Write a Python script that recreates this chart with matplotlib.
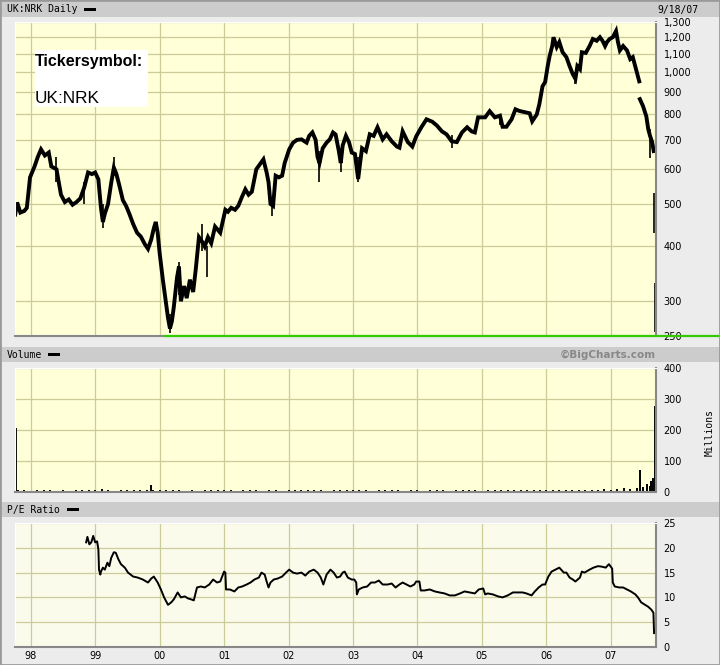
import numpy as np
import matplotlib
matplotlib.use('Agg')
import matplotlib.pyplot as plt
from matplotlib.patches import Rectangle

# ---- data (x = decimal year) ----
price_dates = [1997.76, 1997.79, 1997.84, 1997.90, 1997.94, 1997.99,
               1998.06, 1998.11, 1998.16, 1998.22, 1998.28, 1998.32, 1998.40, 1998.47,
               1998.53, 1998.59, 1998.65, 1998.71, 1998.77, 1998.83, 1998.89, 1998.95,
               1999.00, 1999.05, 1999.09, 1999.12, 1999.15, 1999.20, 1999.25, 1999.29,
               1999.33, 1999.37, 1999.43, 1999.48, 1999.53, 1999.59, 1999.65, 1999.71,
               1999.77, 1999.82, 1999.87, 1999.91, 1999.94, 1999.97,
               2000.00, 2000.05, 2000.10, 2000.13, 2000.16, 2000.19, 2000.22, 2000.27,
               2000.30, 2000.33, 2000.38, 2000.42, 2000.47, 2000.52, 2000.56, 2000.61,
               2000.66, 2000.70, 2000.75, 2000.80, 2000.86, 2000.94,
               2001.02, 2001.06, 2001.11, 2001.17, 2001.22, 2001.28, 2001.33, 2001.38,
               2001.43, 2001.47, 2001.50, 2001.57, 2001.61, 2001.66, 2001.69, 2001.72,
               2001.76, 2001.80, 2001.85, 2001.90, 2001.94,
               2002.01, 2002.07, 2002.13, 2002.20, 2002.28, 2002.32, 2002.37, 2002.42,
               2002.45, 2002.48, 2002.53, 2002.59, 2002.64, 2002.69, 2002.73, 2002.78,
               2002.81, 2002.84, 2002.89, 2002.94, 2002.98,
               2003.03, 2003.06, 2003.08, 2003.11, 2003.14, 2003.20, 2003.26, 2003.32,
               2003.38, 2003.46, 2003.52, 2003.60, 2003.68, 2003.72, 2003.77, 2003.85,
               2003.92, 2003.98,
               2004.06, 2004.14, 2004.23, 2004.30, 2004.38, 2004.45, 2004.53, 2004.61,
               2004.69, 2004.77, 2004.84, 2004.89, 2004.94,
               2005.05, 2005.12, 2005.20, 2005.28, 2005.32, 2005.38, 2005.46, 2005.52,
               2005.58, 2005.66, 2005.74, 2005.78, 2005.85, 2005.89, 2005.94, 2005.98,
               2006.02, 2006.05, 2006.09, 2006.11, 2006.16, 2006.20, 2006.25, 2006.31,
               2006.36, 2006.41, 2006.45, 2006.48, 2006.52, 2006.55, 2006.61, 2006.67,
               2006.72, 2006.78, 2006.83, 2006.87, 2006.91, 2006.94, 2006.98,
               2007.03, 2007.08, 2007.11, 2007.14, 2007.19, 2007.25, 2007.30, 2007.34,
               2007.39, 2007.44, 2007.445, 2007.45, 2007.50, 2007.55, 2007.58, 2007.61,
               2007.64, 2007.665]
price_close = [473, 504, 478, 482, 490, 575,
               609, 640, 666, 645, 655, 609, 600, 525,
               505, 512, 498, 505, 515, 545, 590, 585,
               590, 569, 490, 455, 475, 500, 560, 605,
               585, 555, 510, 495, 475, 450, 430, 421,
               405, 395, 415, 440, 455, 430,
               387, 336, 297, 275, 260, 270, 291, 340,
               360, 300, 325, 305, 336, 315, 354, 420,
               410, 400, 420, 407, 444, 430,
               485, 480, 490, 485, 495, 520, 540, 525,
               533, 570, 600, 620, 632, 590, 560, 500,
               495, 580, 575, 580, 620,
               666, 690, 700, 702, 690, 715, 728, 700,
               640, 620, 670, 690, 702, 728, 720, 660,
               620, 680, 715, 690, 655,
               650, 600, 570, 620, 670, 660, 721, 715,
               748, 702, 721, 695, 676, 672, 732, 692,
               676, 713,
               748, 780, 770, 755, 732, 721, 695, 692,
               728, 748, 732, 728, 788,
               788, 814, 788, 795, 750, 750, 780, 822,
               815, 810, 805, 772, 800, 844, 928, 948,
               1031, 1087, 1146, 1200, 1140, 1170, 1110, 1081,
               1031, 988, 965, 1031, 1015, 1109, 1105, 1146,
               1189, 1178, 1200, 1178, 1146, 1170, 1189,
               1200, 1240, 1170, 1120, 1146, 1120, 1070, 1081,
               1015, 952, np.nan, 867, 835, 792, 740, 713,
               692, 660]

# single-day high/low bars that stick out (incl. the September 2007 run)
bar_dates = [1998.40, 1998.83, 1999.12, 1999.29, 2000.16, 2000.30, 2000.65, 2000.74,
             2001.75, 2002.47, 2002.81, 2003.08, 2004.53, 2005.28, 2006.45, 2007.61,
             2007.674, 2007.679]
bar_high = [640, 560, 500, 640, 280, 369, 449, 400,
            520, 660, 650, 640, 720, 800, 1000, 740,
            530, 330]
bar_low = [560, 500, 440, 580, 254, 310, 390, 340,
           470, 560, 590, 560, 670, 755, 940, 637,
           430, 255]

low_line_start = 2000.08   # green low marker
low_line_end = 2008.70
low_line_level = 250

vol_dates = np.linspace(1997.8, 2007.6, 99)
vol_millions = [6, 5, 4, 5, 6, 5, 4, 5, 4, 5,
                5, 6, 5, 10, 5, 4, 5, 6, 5, 7,
                6, 7, 5, 6, 7, 5, 4, 5, 4, 5,
                6, 5, 7, 5, 4, 5, 6, 5, 4, 7,
                5, 4, 5, 6, 5, 5, 8, 5, 4, 5,
                5, 6, 8, 7, 5, 4, 5, 5, 6, 5,
                4, 5, 5, 4, 5, 6, 5, 4, 5, 5,
                6, 5, 4, 5, 5, 6, 5, 6, 5, 7,
                6, 8, 7, 5, 6, 5, 6, 7, 6, 8,
                7, 9, 8, 10, 12, 11, 14, 17, 20]
vol_spike_dates = [1997.775, 1999.87, 2007.45, 2007.56, 2007.62, 2007.66, 2007.678]
vol_spike_millions = [205, 23, 72, 25, 35, 45, 276]

pe_dates = [1998.86, 1998.88, 1998.91, 1998.94, 1998.97,
            1999.00, 1999.03, 1999.05, 1999.06, 1999.08, 1999.09, 1999.12, 1999.15,
            1999.19, 1999.22, 1999.25, 1999.29, 1999.32, 1999.36, 1999.40, 1999.46,
            1999.51, 1999.59, 1999.66, 1999.74, 1999.82, 1999.87, 1999.91, 1999.97,
            2000.02, 2000.07, 2000.13, 2000.18, 2000.22, 2000.28, 2000.33, 2000.39,
            2000.44, 2000.49, 2000.53, 2000.58, 2000.64, 2000.70, 2000.77, 2000.83,
            2000.89, 2000.94, 2000.97,
            2001.00, 2001.02, 2001.03, 2001.09, 2001.16, 2001.22, 2001.28, 2001.35,
            2001.41, 2001.47, 2001.54, 2001.58, 2001.63, 2001.66, 2001.69, 2001.72,
            2001.77, 2001.83, 2001.90, 2001.96,
            2002.01, 2002.07, 2002.13, 2002.20, 2002.26, 2002.32, 2002.39, 2002.45,
            2002.50, 2002.54, 2002.59, 2002.65, 2002.70, 2002.75, 2002.80, 2002.84,
            2002.87, 2002.92, 2002.98,
            2003.02, 2003.05, 2003.06, 2003.09, 2003.15, 2003.22, 2003.28, 2003.34,
            2003.40, 2003.46, 2003.54, 2003.60, 2003.66, 2003.72, 2003.77, 2003.83,
            2003.89, 2003.95, 2003.98,
            2004.03, 2004.05, 2004.11, 2004.19, 2004.27, 2004.34, 2004.42, 2004.50,
            2004.58, 2004.66, 2004.73, 2004.81, 2004.89, 2004.95,
            2005.02, 2005.05, 2005.09, 2005.17, 2005.25, 2005.32, 2005.40, 2005.48,
            2005.55, 2005.63, 2005.69, 2005.77, 2005.82, 2005.88, 2005.94, 2005.98,
            2006.03, 2006.08, 2006.14, 2006.20, 2006.27, 2006.31, 2006.36, 2006.41,
            2006.45, 2006.52, 2006.55, 2006.59, 2006.67, 2006.73, 2006.80, 2006.86,
            2006.92, 2006.97,
            2007.02, 2007.03, 2007.06, 2007.13, 2007.19, 2007.25, 2007.31, 2007.38,
            2007.42, 2007.47, 2007.53, 2007.58, 2007.63, 2007.66, 2007.67]
pe_ratio = [21.1, 22.2, 20.7, 21.1, 22.4,
            21.1, 21.3, 19.7, 15.6, 14.6, 15.2, 16.0, 15.6,
            17.0, 16.3, 18.0, 19.1, 19.0, 17.7, 16.7, 16.0,
            15.0, 14.2, 14.0, 13.6, 13.0, 13.8, 14.2, 13.0,
            11.6, 10.0, 8.5, 9.0, 9.6, 11.0, 10.0, 10.2,
            9.8, 9.6, 9.4, 12.0, 12.2, 12.0, 12.6, 13.6,
            13.0, 13.2, 14.2,
            15.2, 15.0, 11.6, 11.6, 11.2, 12.0, 12.2, 12.6,
            13.0, 13.6, 14.0, 15.0, 14.6, 13.2, 12.0, 13.0,
            13.6, 13.8, 14.2, 15.0,
            15.6, 15.0, 14.8, 15.0, 14.4, 15.2, 15.6, 15.0,
            14.0, 12.6, 14.6, 15.6, 15.0, 14.0, 14.2, 15.0,
            15.2, 14.0, 13.6,
            13.6, 13.0, 10.6, 11.6, 12.0, 12.2, 13.0, 13.0,
            13.4, 12.6, 12.6, 12.8, 12.0, 12.6, 13.0, 12.6,
            12.2, 12.6, 13.2,
            13.2, 11.4, 11.4, 11.6, 11.2, 11.0, 10.8, 10.4,
            10.4, 10.8, 11.2, 11.0, 10.8, 11.6,
            11.8, 10.6, 10.8, 10.6, 10.2, 10.0, 10.4, 11.0,
            11.0, 11.0, 10.8, 10.4, 11.2, 12.0, 12.6, 12.6,
            14.2, 15.2, 15.6, 16.0, 15.0, 15.0, 14.0, 13.6,
            13.2, 14.0, 15.2, 15.0, 15.6, 16.0, 16.3, 16.2,
            16.0, 16.7,
            15.8, 13.0, 12.2, 12.0, 12.0, 11.6, 11.2, 10.6,
            10.0, 9.0, 8.5, 8.1, 7.5, 6.9, 2.8]

years = list(range(1998, 2008))
year_labels = ['98', '99', '00', '01', '02', '03', '04', '05', '06', '07']
price_ticks = [250, 300, 400, 500, 600, 700, 800, 900, 1000, 1100, 1200, 1300]
price_tick_labels = ['250', '300', '400', '500', '600', '700', '800', '900',
                     '1,000', '1,100', '1,200', '1,300']

# ---- layout (pixel helpers) ----
W, H = 720, 665
X0, X1 = 1997.752, 2007.70


def fx(x):
    return x / W


def fy(y):
    return 1 - y / H


fig = plt.figure(figsize=(W / 100, H / 100), dpi=100, facecolor='#ececec')


def panel(top, bottom, bg):
    ax = fig.add_axes([fx(14.7), fy(bottom), fx(656) - fx(14.7), (bottom - top) / H])
    ax.set_facecolor(bg)
    ax.set_axisbelow(True)
    ax.grid(True, color='#cccc99', lw=0.9)
    ax.yaxis.tick_right()
    ax.tick_params(length=0, labelsize=7, pad=5.5)
    ax.tick_params(axis='x', pad=3)
    for s in ['top', 'left']:
        ax.spines[s].set_color('white')
    for s in ['right', 'bottom']:
        ax.spines[s].set_color('#888888')
        ax.spines[s].set_linewidth(1.5)
    ax.set_xlim(X0, X1)
    ax.set_xticks(years)
    return ax


def header(top, bottom, label, dash_x):
    fig.patches.append(Rectangle((fx(2), fy(bottom)), 1 - fx(2), (bottom - top) / H,
                                 transform=fig.transFigure, facecolor='#cccccc',
                                 edgecolor='none'))
    mid = (top + bottom) / 2
    fig.text(fx(7), fy(mid), label, family='DejaVu Sans Mono', fontsize=7,
             va='center', ha='left')
    fig.patches.append(Rectangle((fx(dash_x), fy(mid + 1.7)), 12 / W, 3.4 / H,
                                 transform=fig.transFigure, facecolor='black',
                                 edgecolor='none'))


# price panel
ax1 = panel(22, 336, '#ffffd8')
ax1.set_yscale('log')
ax1.plot(price_dates, price_close, color='black', lw=2.8, solid_joinstyle='miter')
ax1.vlines(bar_dates, bar_low, bar_high, color='black', lw=1.2)
ax1.plot([low_line_start, low_line_end], [low_line_level, low_line_level],
         color='#33cc00', lw=1.6, clip_on=False, zorder=5)
ax1.set_ylim(250, 1300)
ax1.set_yticks(price_ticks)
ax1.set_yticklabels(price_tick_labels)
ax1.minorticks_off()
ax1.set_xticklabels([])

# volume panel
ax2 = panel(368, 492, '#ffffd8')
ax2.vlines(vol_dates, 0, vol_millions, color='black', lw=1.4)
ax2.vlines(vol_spike_dates, 0, vol_spike_millions, color='black', lw=1.4)
ax2.set_ylim(0, 400)
ax2.set_yticks([0, 100, 200, 300, 400])
ax2.set_xticklabels([])

# P/E panel
ax3 = panel(523, 647, '#fbfbec')
ax3.plot(pe_dates, pe_ratio, color='black', lw=1.4)
ax3.set_ylim(0, 25)
ax3.set_yticks([0, 5, 10, 15, 20, 25])
ax3.set_xticklabels(year_labels)

# headers and labels
header(2, 17, 'UK:NRK Daily', 84)
header(347, 362, 'Volume', 48)
header(502, 517, 'P/E Ratio', 67)
fig.text(fx(698), fy(9.5), '9/18/07', family='DejaVu Sans Mono', fontsize=7,
         ha='right', va='center')
fig.text(fx(656), fy(354.5), '\u00a9BigCharts.com', fontsize=7.5, weight='bold',
         color='#888888', ha='right', va='center')
fig.text(fx(710), fy(432), 'Millions', family='DejaVu Sans Mono', fontsize=7,
         rotation=90, ha='center', va='center')

# ticker box
fig.patches.append(Rectangle((fx(35), fy(107)), 113 / W, 57 / H,
                             transform=fig.transFigure, facecolor='white',
                             edgecolor='none'))
fig.text(fx(35), fy(66), 'Tickersymbol:', family='Liberation Sans', weight='bold',
         fontsize=11.5, va='baseline', ha='left')
fig.text(fx(35), fy(103), 'UK:NRK', family='Liberation Sans', fontsize=12.4,
         va='baseline', ha='left')

# outer border
fig.patches.append(Rectangle((0, 0), 1, 1, transform=fig.transFigure,
                             facecolor='none', edgecolor='#999999', lw=2))

fig.savefig('out.png', dpi=100, facecolor=fig.get_facecolor())
